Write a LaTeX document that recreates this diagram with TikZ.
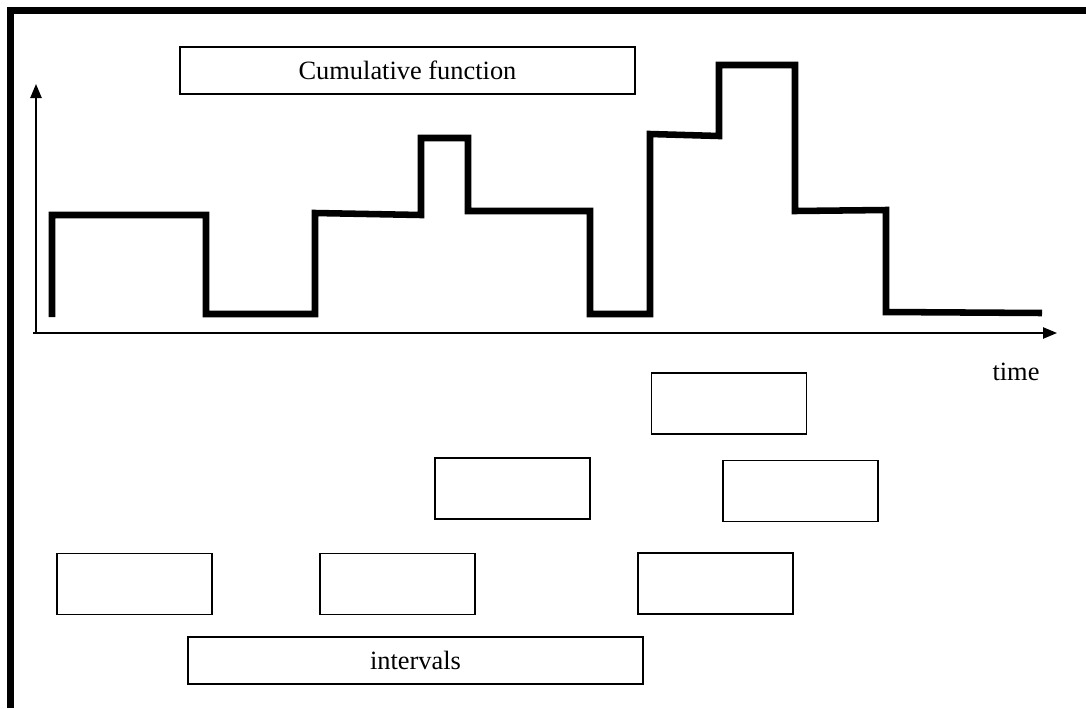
\documentclass[tikz,border=0pt]{standalone}
\usepackage{fontspec}
\setmainfont{Liberation Serif}
\usetikzlibrary{arrows.meta}
\begin{document}
\begin{tikzpicture}[x=0.75pt,y=-0.75pt,
  box/.style={draw,line width=1.1pt,inner sep=0pt,minimum width=116.25pt,minimum height=45.75pt},
  widebox/.style={draw,line width=1.1pt,inner sep=0pt,minimum width=341.25pt,minimum height=35.25pt,font=\fontsize{19.8}{22}\selectfont},
  lbl/.style={font=\fontsize{19.8}{22}\selectfont,inner sep=0pt},
  curve/.style={line width=4.9pt,line join=miter},
  axis/.style={line width=1.1pt,-{Triangle[length=10.5pt,width=8.5pt]}}]
\useasboundingbox (0,0) rectangle (1086,708);
% frame
\draw[line width=5.25pt,line join=miter] (10,708) -- (10,10) -- (1086,10);
% axes
\coordinate (o) at (33,333);
\coordinate (ytop) at (36,84);
\coordinate (ybot) at (36,333);
\coordinate (xend) at (1057,333);
\draw[axis] (ybot) -- (ytop);
\draw[axis] (o) -- (xend);
\node[lbl] (time) at (1016,372) {time};
% cumulative step function
\draw[curve] (52,317) -- (52,215) -- (206,215) -- (206,314) -- (315,314) -- (315,213)
  -- (421,215) -- (421,138) -- (468,138) -- (468,211) -- (590,211) -- (590,314)
  -- (650,314) -- (650,134) -- (719,136) -- (719,65) -- (795,65) -- (795,211)
  -- (886,210) -- (886,312) -- (1042,313);
% labels
\node[widebox] (cum) at (407.5,70.5) {Cumulative function};
\node[widebox] (int) at (415.5,660.5) {intervals};
% interval boxes
\node[box] (a) at (729,403.5) {};
\node[box] (b) at (512.5,488.5) {};
\node[box] (c) at (800.5,491) {};
\node[box] (d) at (134.5,584) {};
\node[box] (e) at (397.5,584) {};
\node[box] (f) at (715.5,583.5) {};
\end{tikzpicture}
\end{document}
